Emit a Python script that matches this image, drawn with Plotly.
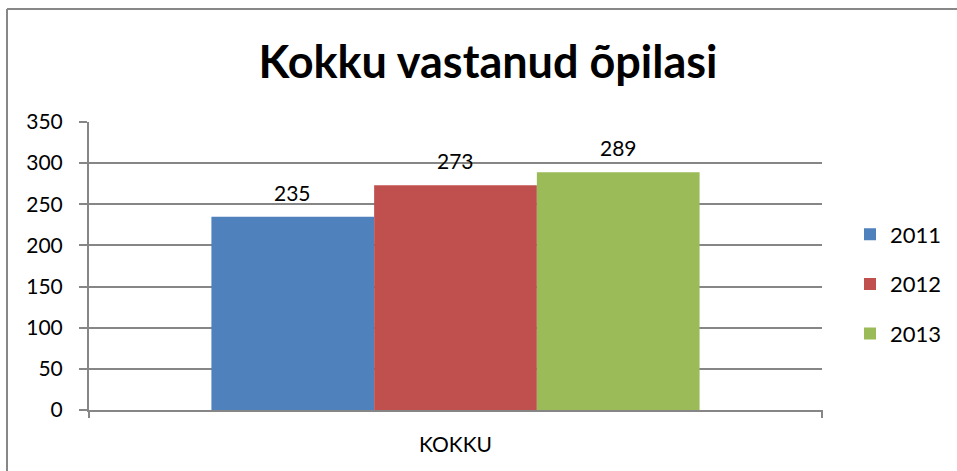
import plotly.graph_objects as go

categories = ["KOKKU"]
years = ["2011", "2012", "2013"]
values = [235, 273, 289]
colors = ["#4F81BD", "#C0504D", "#9BBB59"]
y_ticks = [0, 50, 100, 150, 200, 250, 300, 350]

FONT = "Lato, Calibri, Carlito, sans-serif"
BARGAP = 0.334

fig = go.Figure()
for yr, v, c in zip(years, values, colors):
    fig.add_trace(go.Bar(
        x=categories, y=[v], name=yr, marker_color=c, marker_line_width=0,
        legendgroup=yr,
    ))

# value labels above each bar (positions from the group layout)
n = len(years)
bw = (1 - BARGAP) / n
for i, v in enumerate(values):
    fig.add_annotation(x=(i - (n - 1) / 2) * bw, y=v, xref="x", yref="y", text=str(v),
                       showarrow=False, yanchor="bottom", yshift=10,
                       font=dict(size=21, family=FONT, color="black"))

L, R, T, B = 89, 135, 122, 61
W, H = 957, 471
pw, ph = W - L - R, H - T - B

fig.update_layout(
    width=W, height=H,
    margin=dict(l=L, r=R, t=T, b=B, autoexpand=False),
    plot_bgcolor="white", paper_bgcolor="white",
    barmode="group", bargap=BARGAP, bargroupgap=0,
    font=dict(family=FONT, color="black", size=21),
    title=dict(text="<b>Kokku vastanud õpilasi</b>", x=(488 - 0) / W, xanchor="center",
               y=1 - 62 / H, yanchor="middle", font=dict(size=45, family=FONT, color="black")),
    legend=dict(x=(850 - L) / pw, xanchor="left", y=(410 - 284) / ph, yanchor="middle",
                font=dict(size=22, family=FONT), tracegroupgap=18, traceorder="grouped",
                itemwidth=30),
    xaxis=dict(showgrid=False, showline=True, linecolor="#868686", linewidth=2,
               ticks="outside", ticklen=15, tickcolor="rgba(0,0,0,0)",
               tickfont=dict(size=21, family=FONT)),
    yaxis=dict(range=[0, 350], tickvals=y_ticks, showgrid=True, gridcolor="#868686", gridwidth=1.5,
               showline=True, linecolor="#868686", linewidth=2, ticks="outside", ticklen=8,
               tickcolor="#868686", tickwidth=2, tickfont=dict(size=21, family=FONT),
               ticklabelstandoff=12, zeroline=False),
)

# tick marks at the ends of the category axis
for xp in [0, 1]:
    fig.add_shape(type="line", xref="paper", yref="paper", x0=xp, x1=xp, y0=0, y1=-8 / ph,
                  line=dict(color="#868686", width=2))

# chart frame (left and top visible)
fx = (7 - L) / pw
fy = 1 + (T - 9) / ph
fig.add_shape(type="line", xref="paper", yref="paper", x0=fx, x1=fx,
              y0=fy, y1=-(B + 5) / ph, line=dict(color="#878787", width=2))
fig.add_shape(type="line", xref="paper", yref="paper", x0=fx, x1=(W + 5 - L) / pw,
              y0=fy, y1=fy, line=dict(color="#878787", width=2))

fig.write_html("out.html",
               config={"displayModeBar": False, "responsive": False},
               post_script="document.body.style.margin='0';document.body.style.overflow='hidden';")
